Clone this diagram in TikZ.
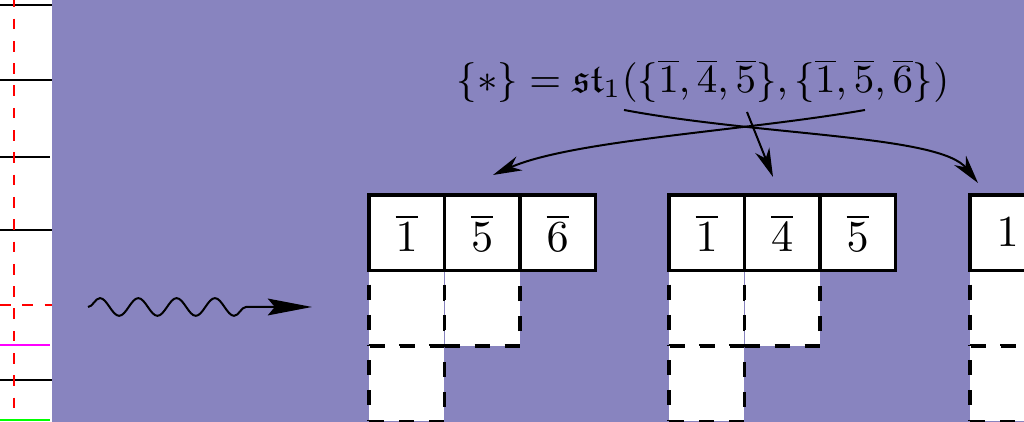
\documentclass[tikz,border=0pt]{standalone}
\usepackage{amssymb}
\usetikzlibrary{arrows.meta,decorations.pathmorphing}
\definecolor{bgpurple}{RGB}{136,132,191}
\definecolor{stripmagenta}{RGB}{255,0,255}
\definecolor{stripgreen}{RGB}{0,255,0}
\definecolor{stripred}{RGB}{255,0,0}
\begin{document}
\begin{tikzpicture}[x=0.226pt,y=-0.226pt,
  solidcell/.style={draw=black, fill=white, line width=0.75pt, minimum size=17.06pt,
    inner sep=0pt, outer sep=0pt, anchor=north west},
  dashcell/.style={draw=black, fill=white, line width=0.75pt, dash pattern=on 3.4pt off 3.4pt,
    minimum size=17.06pt, inner sep=0pt, outer sep=0pt, anchor=north west},
  conn/.style={line width=0.45pt, -{Stealth[length=6.5pt,width=3.4pt,inset=2pt]}},
  wavy/.style={line width=0.45pt, decorate,
    decoration={snake, segment length=8.66pt, amplitude=2pt, post length=13pt},
    -{Stealth[length=10pt,width=3.8pt,inset=1.6pt]}},
  stripline/.style={line width=0.45pt},
  reddash/.style={line width=0.45pt, stripred, dash pattern=on 2.42pt off 2.62pt},
  label/.style={anchor=base, inner sep=0pt, font=\fontsize{9}{11}\selectfont}
]
\useasboundingbox (0,0) rectangle (1024,422);
\clip (0,0) rectangle (1024,422);
\fill[bgpurple] (0,0) rectangle (1024,422);
% left strip
\fill[white] (0,0) rectangle (52,422);
\draw[stripline] (0,5) -- (52,5);
\draw[stripline] (0,80) -- (52,80);
\draw[stripline] (0,157) -- (50,157);
\draw[stripline] (0,230) -- (52,230);
\draw[stripline] (0,380) -- (52,380);
\draw[stripline, stripmagenta] (0,345) -- (50,345);
\draw[stripline, stripgreen] (0,420) -- (50,420);
\draw[reddash] (0,305) -- (52,305);
\draw[reddash, dash phase=0.84pt] (14,0) -- (14,416);
% wavy arrow
\coordinate (w1) at (88,307);
\coordinate (w2) at (312,307);
\draw[wavy] (w1) -- (w2);
% tableau 1
\node[dashcell] (a21) at (369,270.5) {};
\node[dashcell] (a22) at (444.5,270.5) {};
\node[dashcell] (a31) at (369,346) {};
\node[solidcell] (a11) at (369,195) {$\overline{1}$};
\node[solidcell] (a12) at (444.5,195) {$\overline{5}$};
\node[solidcell] (a13) at (520,195) {$\overline{6}$};
% tableau 2
\node[dashcell] (b21) at (669,270.5) {};
\node[dashcell] (b22) at (744.5,270.5) {};
\node[dashcell] (b31) at (669,346) {};
\node[solidcell] (b11) at (669,195) {$\overline{1}$};
\node[solidcell] (b12) at (744.5,195) {$\overline{4}$};
\node[solidcell] (b13) at (820,195) {$\overline{5}$};
% tableau 3 (partly visible)
\node[dashcell] (c21) at (970,270.5) {};
\node[dashcell] (c31) at (970,346) {};
\node[solidcell] (c11) at (970,195) {$1$};
% label
\node[label] (eq) at (703,93)
  {$\{*\} = \mathfrak{st}_1(\{\overline{1},\overline{4},\overline{5}\},\{\overline{1},\overline{5},\overline{6}\})$};
\coordinate (s1) at (624,110);
\coordinate (t1) at (978,183);
\coordinate (s2) at (865,110);
\coordinate (t2) at (493,175);
\coordinate (s3) at (747,112);
\coordinate (t3) at (773,177);
\draw[conn] (s1) .. controls (763,136) and (940,135) .. (t1);
\draw[conn] (s2) .. controls (745,131) and (573,140) .. (t2);
\draw[conn] (s3) -- (t3);
\end{tikzpicture}
\end{document}
